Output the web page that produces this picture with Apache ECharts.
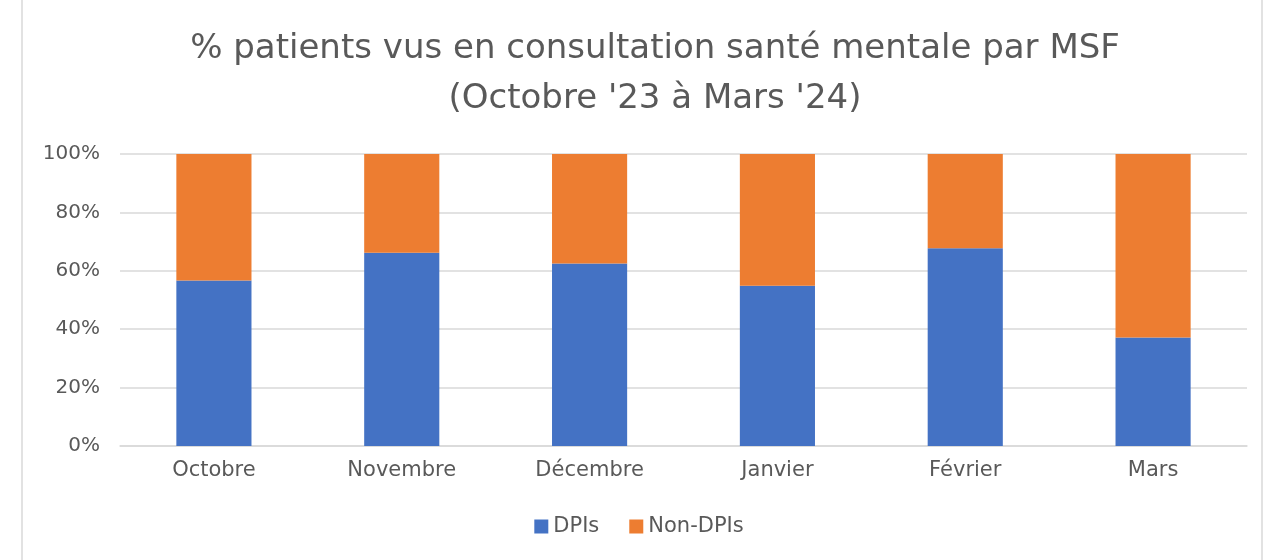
<!DOCTYPE html>
<html><head><meta charset="utf-8">
<script src="https://cdn.jsdelivr.net/npm/echarts@6/dist/echarts.min.js"></script>
<style>html,body{margin:0;padding:0;background:#fff}#c{width:1278px;height:560px}</style>
</head><body><div id="c"></div>
<script>
const categories = ['Octobre','Novembre','Décembre','Janvier','Février','Mars'];
const dpis = [56.7, 66.2, 62.5, 54.9, 67.7, 37.2];
const nonDpis = [43.3, 33.8, 37.5, 45.1, 32.3, 62.8];
const yTicks = [0, 20, 40, 60, 80, 100];

const chart = echarts.init(document.getElementById('c'));
const txt = '#595959';
const font = '"DejaVu Sans", sans-serif';
chart.setOption({
  backgroundColor: '#fff',
  animation: false,
  graphic: [{type:'rect', shape:{x:22,y:-5,width:1240,height:580}, style:{fill:'none', stroke:'#d9d9d9', lineWidth:1.5}}],
  title: {
    text: '% patients vus en consultation santé mentale par MSF\n(Octobre \'23 à Mars \'24)',
    left: 650, textAlign: 'center', top: 19,
    textStyle: {color: txt, fontSize: 34, fontWeight: 'normal', fontFamily: font, lineHeight: 50}
  },
  legend: {
    bottom: 18, left: 'center', itemWidth: 14, itemHeight: 14, itemGap: 30,
    icon: 'rect',
    textStyle: {color: txt, fontSize: 21, fontFamily: font}
  },
  grid: {left: 120, right: 31, top: 154, bottom: 114, containLabel: false},
  xAxis: {
    type: 'category', data: categories,
    axisLine: {lineStyle: {color: '#d9d9d9', width: 1.5}},
    axisTick: {show: false},
    axisLabel: {color: txt, fontSize: 21, fontFamily: font, margin: 14}
  },
  yAxis: {
    type: 'value', min: 0, max: 100, interval: 20,
    axisLabel: {color: txt, fontSize: 20, fontFamily: font, formatter: v => yTicks.includes(v) ? v + '%' : '', margin: 20},
    splitLine: {lineStyle: {color: '#d9d9d9', width: 1.5}},
    axisLine: {show: false}, axisTick: {show: false}
  },
  series: [
    {name: 'DPIs', type: 'bar', stack: 'a', data: dpis, barWidth: '40%', itemStyle: {color: '#4472c4'}},
    {name: 'Non-DPIs', type: 'bar', stack: 'a', data: nonDpis, barWidth: '40%', itemStyle: {color: '#ed7d31'}}
  ]
});
</script></body></html>
